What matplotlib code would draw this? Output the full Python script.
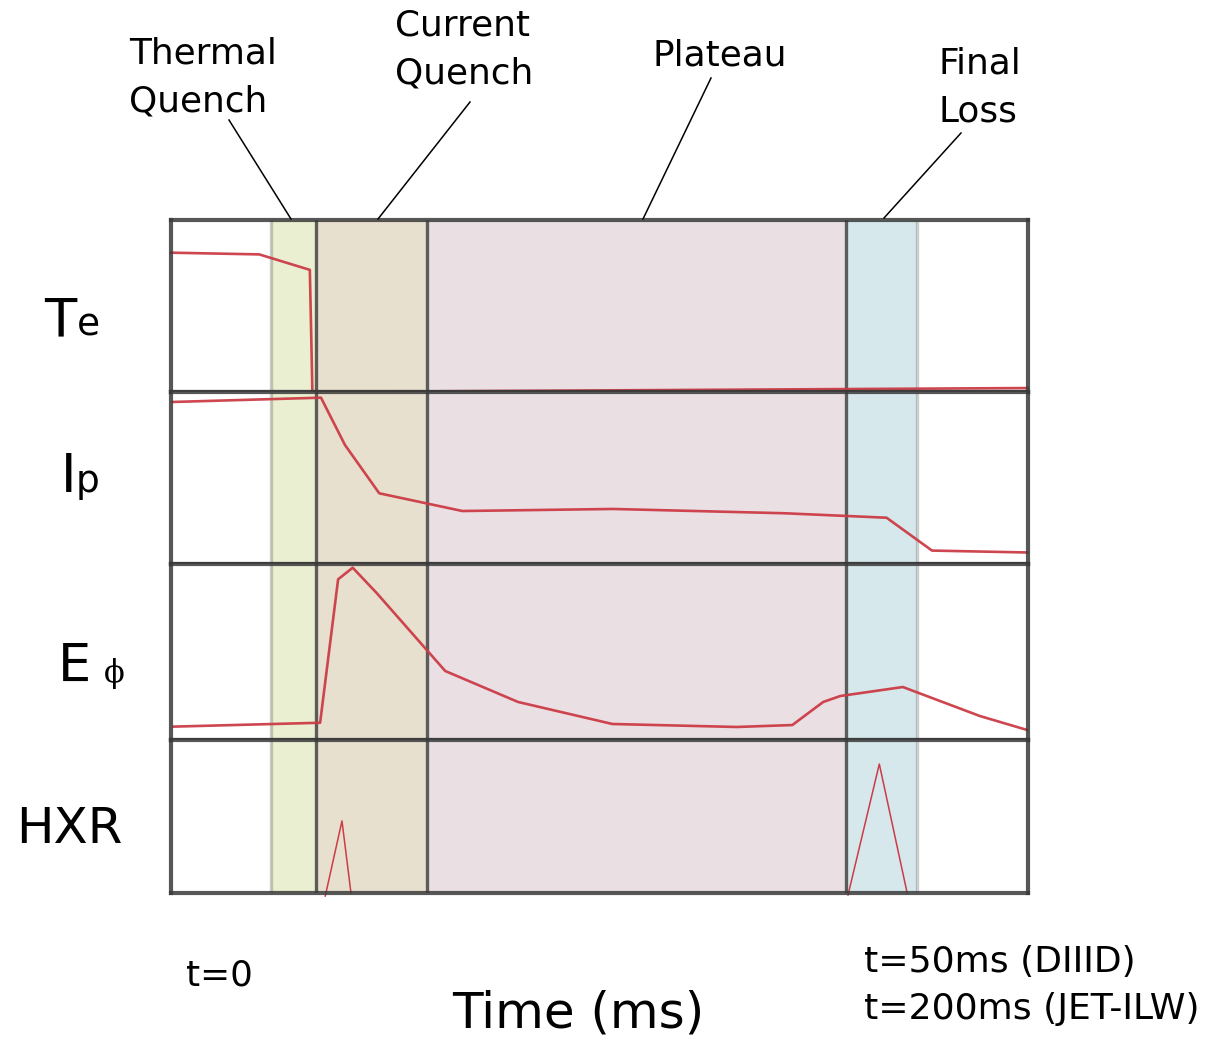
import matplotlib
matplotlib.use("Agg")
import matplotlib.pyplot as plt
import numpy as np
from matplotlib.lines import Line2D

W, H = 1206, 1037

# ---------------- data (time in arbitrary units 0..100) ----------------
phase_edges = [11.7, 16.9, 29.9, 78.8, 87.1]
phase_colors = ['#eaefd2', '#e8e0cf', '#eae0e4', '#d6e8eb']
edge_alpha = [0.25, 0.8, 0.8, 0.8, 0.25]

te_t = [0, 10.3, 16.2, 16.5, 100]
te_v = [0.81, 0.80, 0.71, 0.0, 0.023]

ip_t = [0.2, 17.5, 20.3, 24.3, 34.0, 51.6, 71.6, 83.5, 88.8, 99.9]
ip_v = [0.942, 0.967, 0.692, 0.411, 0.308, 0.320, 0.295, 0.269, 0.078, 0.067]

ef_t = [0.3, 17.4, 19.5, 21.2, 24.0, 32.0, 40.5, 51.5, 66.0, 72.5, 76.1, 78.1, 85.4, 94.4, 99.9]
ef_v = [0.076, 0.098, 0.913, 0.979, 0.835, 0.392, 0.216, 0.091, 0.074, 0.085, 0.216, 0.250, 0.301, 0.136, 0.057]

hxr1_t = [18.0, 19.95, 21.0]
hxr1_v = [-0.02, 0.471, 0.0]
hxr2_t = [79.0, 82.65, 85.9]
hxr2_v = [-0.013, 0.843, 0.0]

panel_labels = ['Te', 'Ip', 'Eφ', 'HXR']
phase_names = [['Thermal', 'Quench'], ['Current', 'Quench'], ['Plateau'], ['Final', 'Loss']]

# ---------------- figure ----------------
fig = plt.figure(figsize=(W / 100, H / 100), dpi=100)


def fx(px):
    return px / W


def fy(py):
    return 1 - py / H


panel_px = [(220, 392), (392, 564), (564, 740), (740, 893)]
left_px, right_px = 171, 1028
red = '#cc3c46'
frame = '#3a3a3a'

axes = []
for top, bot in panel_px:
    ax = fig.add_axes([fx(left_px), fy(bot), fx(right_px) - fx(left_px), (bot - top) / H])
    ax.set_xlim(0, 100)
    ax.set_ylim(0, 1)
    ax.set_xticks([])
    ax.set_yticks([])
    for s in ax.spines.values():
        s.set_color(frame)
        s.set_linewidth(3.0)
        s.set_alpha(0.85)
        s.set_zorder(5)
    for i in range(4):
        ax.axvspan(phase_edges[i], phase_edges[i + 1], color=phase_colors[i], lw=0, zorder=0)
    for e, a in zip(phase_edges, edge_alpha):
        ax.axvline(e, color=frame, lw=2.4, alpha=a, zorder=1)
    axes.append(ax)

axes[0].plot(te_t, te_v, color=red, lw=1.9, alpha=0.95, clip_on=False, zorder=3)
axes[1].plot(ip_t, ip_v, color=red, lw=1.9, alpha=0.95, clip_on=False, zorder=3)
axes[2].plot(ef_t, ef_v, color=red, lw=1.9, alpha=0.95, clip_on=False, zorder=3)
axes[3].plot(hxr1_t, hxr1_v, color=red, lw=1.1, clip_on=False, zorder=3)
axes[3].plot(hxr2_t, hxr2_v, color=red, lw=1.1, clip_on=False, zorder=3)

# ---------------- panel labels on the left ----------------
fig.text(fx(44), fy(336), 'T', fontsize=38, va='baseline')
fig.text(fx(77), fy(336), 'e', fontsize=27, va='baseline')
fig.text(fx(61), fy(492), 'I', fontsize=38, va='baseline')
fig.text(fx(76), fy(492), 'p', fontsize=27, va='baseline')
fig.text(fx(58), fy(682), 'E', fontsize=38, va='baseline')
fig.text(fx(104), fy(682), 'ϕ', fontsize=22, va='baseline', family='DejaVu Serif')
fig.text(fx(16), fy(843), panel_labels[3], fontsize=36, va='baseline')

# ---------------- phase annotations ----------------
name_pos = [(129, 64), (395, 36), (652, 66), (939, 74)]
line_spacing = 47
for names, (x0, y0) in zip(phase_names, name_pos):
    for k, s in enumerate(names):
        fig.text(fx(x0), fy(y0 + k * line_spacing), s, fontsize=25.8, va='baseline')

leader_px = [((229, 120), (291, 219)), ((470, 102), (378, 219)),
             ((711, 78), (643, 219)), ((961, 133), (884, 218))]
for (x1, y1), (x2, y2) in leader_px:
    fig.add_artist(Line2D([fx(x1), fx(x2)], [fy(y1), fy(y2)], color='black', lw=1.1))

# ---------------- time labels ----------------
fig.text(fx(186), fy(985), 't=0', fontsize=25.8, va='baseline')
fig.text(fx(578), fy(1027), 'Time (ms)', fontsize=36, va='baseline', ha='center')
fig.text(fx(864), fy(972), 't=50ms (DIIID)', fontsize=26, va='baseline')
fig.text(fx(864), fy(1019), 't=200ms (JET-ILW)', fontsize=26, va='baseline')

fig.savefig('out.png', dpi=100)
